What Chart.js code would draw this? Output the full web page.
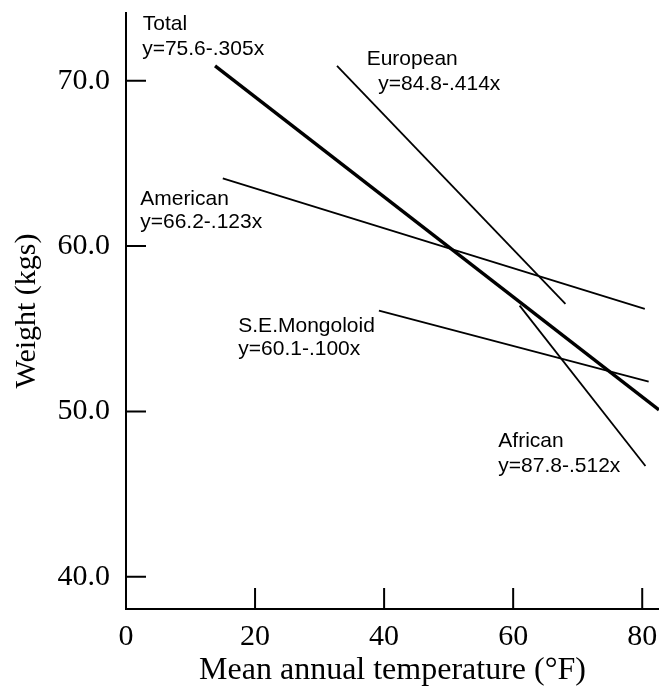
<!DOCTYPE html>
<html>
<head>
<meta charset="utf-8">
<script src="https://cdn.jsdelivr.net/npm/chart.js@4/dist/chart.umd.min.js"></script>
<style>
  html, body { margin: 0; padding: 0; background: #fff; }
  canvas { display: block; }
</style>
</head>
<body>
<canvas id="weightChart" width="659" height="687"></canvas>
<script>
// regression lines (start and end of each line)
const seriesNames = ['Total', 'European', 'American', 'S.E.Mongoloid', 'African'];
const equations = ['y=75.6-.305x', 'y=84.8-.414x', 'y=66.2-.123x', 'y=60.1-.100x', 'y=87.8-.512x'];
const startTemp = [13.8, 32.7, 15.0, 39.2, 61.0];
const startWeight = [70.9, 70.9, 64.1, 56.1, 56.4];
const endTemp = [82.6, 68.1, 80.4, 81.0, 80.5];
const endWeight = [50.1, 56.5, 56.2, 51.8, 46.7];

const xTicks = [0, 20, 40, 60, 80];
const yTicks = [40, 50, 60, 70];

// where the name / equation of each line sits (data units, text baseline)
const nameAt = [[2.6, 73.06], [37.3, 70.98], [2.2, 62.48], [17.4, 54.79], [57.7, 47.87]];
const eqAt = [[2.5, 71.55], [39.1, 69.43], [2.2, 61.09], [17.4, 53.41], [57.7, 46.36]];

const serif = 'Liberation Serif, Times New Roman, serif';
const sans = 'Liberation Sans, Arial, Helvetica, sans-serif';

// tick marks point into the plot, so draw them ourselves
const inwardTicks = {
    id: 'inwardTicks',
    afterDraw(chart) {
        const { ctx, scales: { x, y } } = chart;
        ctx.save();
        ctx.strokeStyle = '#000';
        ctx.lineWidth = 2;
        ctx.beginPath();
        x.ticks.forEach(t => {
            if (t.value <= x.min) return;
            const px = x.getPixelForValue(t.value);
            ctx.moveTo(px, x.top);
            ctx.lineTo(px, x.top - 21);
        });
        y.ticks.forEach(t => {
            const py = y.getPixelForValue(t.value);
            ctx.moveTo(y.right, py);
            ctx.lineTo(y.right + 20, py);
        });
        ctx.stroke();
        ctx.restore();
    }
};

const lineLabels = {
    id: 'lineLabels',
    afterDatasetsDraw(chart) {
        const { ctx, scales: { x, y } } = chart;
        ctx.save();
        ctx.fillStyle = '#000';
        ctx.font = '21px ' + sans;
        ctx.textAlign = 'left';
        ctx.textBaseline = 'alphabetic';
        seriesNames.forEach((name, i) => {
            ctx.fillText(name, x.getPixelForValue(nameAt[i][0]), y.getPixelForValue(nameAt[i][1]));
            ctx.fillText(equations[i], x.getPixelForValue(eqAt[i][0]), y.getPixelForValue(eqAt[i][1]));
        });
        ctx.restore();
    }
};

const datasets = seriesNames.map((name, i) => ({
    label: name,
    data: [{ x: startTemp[i], y: startWeight[i] }, { x: endTemp[i], y: endWeight[i] }],
    borderColor: '#000',
    borderWidth: i === 0 ? 3.4 : 1.8,
    pointRadius: 0,
    fill: false,
    tension: 0
}));

new Chart(document.getElementById('weightChart'), {
    type: 'line',
    data: { datasets: datasets },
    options: {
        responsive: false,
        animation: false,
        layout: { padding: { top: 13, right: 0, left: 0, bottom: 0 } },
        plugins: {
            legend: { display: false },
            tooltip: { enabled: false }
        },
        scales: {
            x: {
                type: 'linear',
                min: 0,
                max: 82.6,
                afterBuildTicks: s => { s.ticks = xTicks.map(v => ({ value: v })); },
                afterFit: s => {
                    s.height = 78;
                    s.paddingLeft = 0;
                    s.paddingRight = 0;
                },
                grid: { display: false, drawTicks: false },
                border: { display: true, color: '#000', width: 2 },
                ticks: {
                    color: '#000',
                    padding: 13,
                    maxRotation: 0,
                    font: { family: serif, size: 30, lineHeight: 1 }
                },
                title: {
                    display: true,
                    text: 'Mean annual temperature (°F)',
                    color: '#000',
                    padding: { top: 0, bottom: 0 },
                    font: { family: serif, size: 32, lineHeight: 1 }
                }
            },
            y: {
                type: 'linear',
                min: 38.05,
                max: 74.1,
                afterBuildTicks: s => { s.ticks = yTicks.map(v => ({ value: v })); },
                afterFit: s => {
                    s.width = 126;
                    s.paddingTop = 0;
                    s.paddingBottom = 0;
                },
                grid: { display: false, drawTicks: false },
                border: { display: true, color: '#000', width: 2 },
                ticks: {
                    color: '#000',
                    padding: 16,
                    font: { family: serif, size: 30, lineHeight: 1 },
                    callback: v => v.toFixed(1)
                },
                title: {
                    display: true,
                    text: 'Weight (kgs)',
                    color: '#000',
                    padding: { top: 12, bottom: 0 },
                    font: { family: serif, size: 30, lineHeight: 1 }
                }
            }
        }
    },
    plugins: [inwardTicks, lineLabels]
});
</script>
</body>
</html>
